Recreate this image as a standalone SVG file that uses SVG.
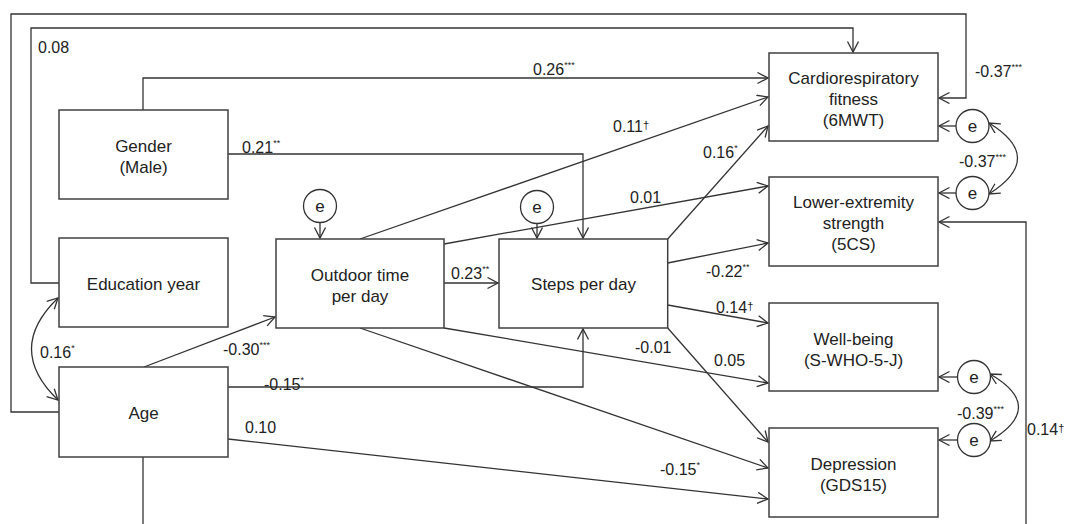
<svg xmlns="http://www.w3.org/2000/svg" width="1069" height="524" viewBox="0 0 1069 524">
<style>
.box{fill:#fff;stroke:#404040;stroke-width:1.5}
.c{fill:#fff;stroke:#333;stroke-width:1.3}
.ln{fill:none;stroke:#333;stroke-width:1.3}
.a{marker-end:url(#ah)}
.d{marker-start:url(#ah);marker-end:url(#ah)}
text{font-family:"Liberation Sans",Arial,sans-serif;fill:#222}
.n{font-size:17px;text-anchor:middle}
.l{font-size:16px}
.s{font-size:9px}
.g{font-size:11px}
</style>
<defs>
<marker id="ah" markerUnits="userSpaceOnUse" markerWidth="13" markerHeight="13" refX="11" refY="6" orient="auto-start-reverse">
<path d="M0.5,0.5 L11,6 L0.5,11.5" fill="none" stroke="#333" stroke-width="1.3"/>
</marker>
</defs>
<rect width="1069" height="524" fill="#fff"/>
<g id="connectors">
<path class="ln a" d="M59,412 H11 V14 H966 V98 H939"/>
<path class="ln a" d="M59,283 H31 V28 H853 V52"/>
<path class="ln a" d="M143,110 V78 H768"/>
<path class="ln a" d="M228,154 H583 V238"/>
<path class="ln a" d="M320,223 V238"/>
<path class="ln a" d="M537,224 V238"/>
<path class="ln a" d="M360,239 L768,97"/>
<path class="ln a" d="M444,244 L768,186"/>
<path class="ln a" d="M444,283 H498"/>
<path class="ln a" d="M444,328 L768,383"/>
<path class="ln a" d="M360,328 L768,468"/>
<path class="ln a" d="M667.7,239 L768,126"/>
<path class="ln a" d="M667.7,263 L768,243"/>
<path class="ln a" d="M667.7,305 L768,323"/>
<path class="ln a" d="M667.7,328 L768,442"/>
<path class="ln a" d="M144,367 L275,317"/>
<path class="ln a" d="M228,387 H583 V329"/>
<path class="ln a" d="M228,439 L768,499"/>
<path class="ln a" d="M143,457 V540 H1026 V222 H939"/>
<path class="ln a" d="M956,126 H939"/>
<path class="ln a" d="M956,193 H939"/>
<path class="ln a" d="M958,377 H939"/>
<path class="ln a" d="M958,440 H939"/>
<path class="ln d" d="M989,123 Q1046,158 989,194"/>
<path class="ln d" d="M990,374 Q1047,407 990,441"/>
<path class="ln d" d="M58,298 Q5,349 58,400"/>
</g>
<g id="labels">
<text class="l" x="38" y="53">0.08</text>
<text class="l" x="533" y="75">0.26<tspan class="s" dy="-7">***</tspan></text>
<text class="l" x="242" y="153">0.21<tspan class="s" dy="-7">**</tspan></text>
<text class="l" x="613" y="132">0.11<tspan class="g" dy="-3">†</tspan></text>
<text class="l" x="703" y="158">0.16<tspan class="s" dy="-7">*</tspan></text>
<text class="l" x="630" y="203">0.01</text>
<text class="l" x="975" y="77">-0.37<tspan class="s" dy="-7">***</tspan></text>
<text class="l" x="959" y="167">-0.37<tspan class="s" dy="-7">***</tspan></text>
<text class="l" x="451" y="279">0.23<tspan class="s" dy="-7">**</tspan></text>
<text class="l" x="706" y="277">-0.22<tspan class="s" dy="-7">**</tspan></text>
<text class="l" x="716" y="313">0.14<tspan class="g" dy="-3">†</tspan></text>
<text class="l" x="635" y="353">-0.01</text>
<text class="l" x="714" y="366">0.05</text>
<text class="l" x="223" y="355">-0.30<tspan class="s" dy="-7">***</tspan></text>
<text class="l" x="264" y="390">-0.15<tspan class="s" dy="-7">*</tspan></text>
<text class="l" x="245" y="433">0.10</text>
<text class="l" x="660" y="475">-0.15<tspan class="s" dy="-7">*</tspan></text>
<text class="l" x="1027" y="435">0.14<tspan class="g" dy="-3">†</tspan></text>
<text class="l" x="957" y="419">-0.39<tspan class="s" dy="-7">***</tspan></text>
<text class="l" x="40" y="358">0.16<tspan class="s" dy="-7">*</tspan></text>
</g>
<g id="gender"><rect class="box" x="59" y="110" width="169" height="89"/><text class="n" x="143.5" y="152">Gender</text><text class="n" x="143.5" y="173">(Male)</text></g>
<g id="education"><rect class="box" x="59" y="238" width="169" height="89"/><text class="n" x="143.5" y="290">Education year</text></g>
<g id="age"><rect class="box" x="59" y="367" width="169" height="90"/><text class="n" x="143.5" y="419">Age</text></g>
<g id="outdoor"><rect class="box" x="276" y="239" width="168" height="89"/><text class="n" x="360" y="281">Outdoor time</text><text class="n" x="360" y="302">per day</text></g>
<g id="steps"><rect class="box" x="499" y="239" width="168.7" height="89"/><text class="n" x="583.5" y="290">Steps per day</text></g>
<g id="cardio"><rect class="box" x="769" y="53" width="169" height="88"/><text class="n" x="853.5" y="84">Cardiorespiratory</text><text class="n" x="853.5" y="105">fitness</text><text class="n" x="853.5" y="126">(6MWT)</text></g>
<g id="lower"><rect class="box" x="769" y="177" width="169" height="89"/><text class="n" x="853.5" y="208">Lower-extremity</text><text class="n" x="853.5" y="229">strength</text><text class="n" x="853.5" y="250">(5CS)</text></g>
<g id="wellbeing"><rect class="box" x="769" y="303" width="169" height="88"/><text class="n" x="853.5" y="345">Well-being</text><text class="n" x="853.5" y="366">(S-WHO-5-J)</text></g>
<g id="depression"><rect class="box" x="769" y="428" width="169" height="89"/><text class="n" x="853.5" y="470">Depression</text><text class="n" x="853.5" y="491">(GDS15)</text></g>
<g id="e-outdoor"><circle class="c" cx="320" cy="206" r="16.5"/><text class="n" x="320" y="212">e</text></g>
<g id="e-steps"><circle class="c" cx="537" cy="207" r="16.5"/><text class="n" x="537" y="213">e</text></g>
<g id="e-cardio"><circle class="c" cx="972.5" cy="126" r="16.5"/><text class="n" x="972.5" y="132">e</text></g>
<g id="e-lower"><circle class="c" cx="972.5" cy="193" r="16.5"/><text class="n" x="972.5" y="199">e</text></g>
<g id="e-wellbeing"><circle class="c" cx="974" cy="377" r="16.5"/><text class="n" x="974" y="383">e</text></g>
<g id="e-depression"><circle class="c" cx="974" cy="440" r="16.5"/><text class="n" x="974" y="446">e</text></g>
</svg>
